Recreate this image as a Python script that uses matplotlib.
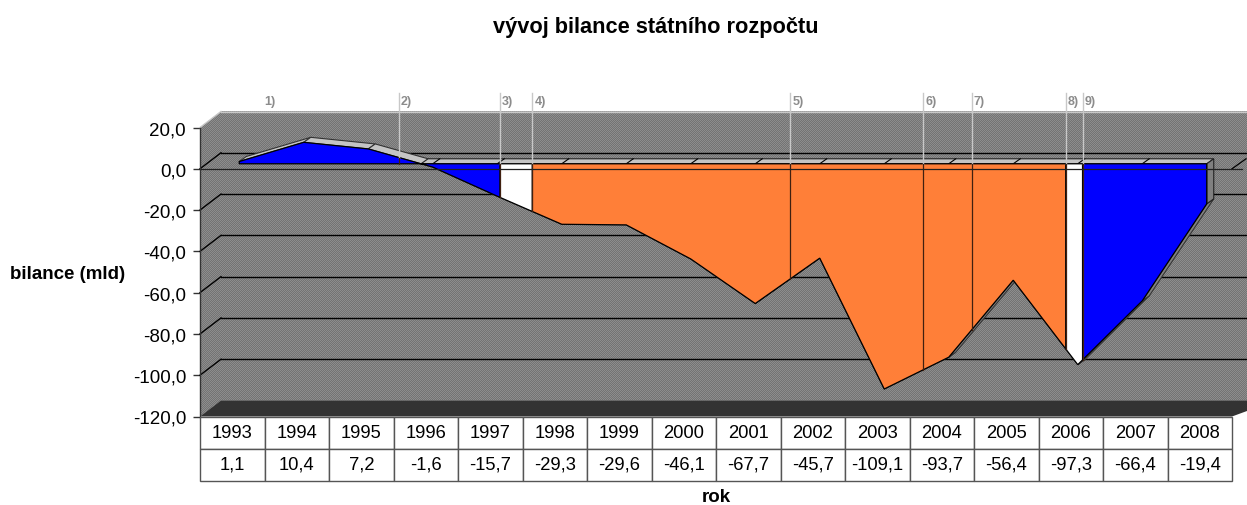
import numpy as np
import matplotlib
matplotlib.use("Agg")
import matplotlib.pyplot as plt
from matplotlib.patches import Polygon

plt.rcParams["font.family"] = ["Liberation Sans", "DejaVu Sans"]

years = [1993, 1994, 1995, 1996, 1997, 1998, 1999, 2000, 2001, 2002, 2003, 2004, 2005, 2006, 2007, 2008]
balance = [1.1, 10.4, 7.2, -1.6, -15.7, -29.3, -29.6, -46.1, -67.7, -45.7, -109.1, -93.7, -56.4, -97.3, -66.4, -19.4]
# where the government changes fall, in category units
event_pos = [2.475, 4.045, 4.545, 8.545, 10.605, 11.355, 12.815, 13.075]
event_names = ["2)", "3)", "4)", "5)", "6)", "7)", "8)", "9)"]
first_event_pos = 0.38
first_event_name = "1)"
region_colors = ["#0000ff", "#ffffff", "#ff7f38", "#ffffff", "#0000ff"]
region_edges = [0, 4.045, 4.545, 12.815, 13.075, 15]
value_ticks = [20, 0, -20, -40, -60, -80, -100, -120]

W, H = 1247, 506
fig = plt.figure(figsize=(W / 100, H / 100), dpi=100)
ax = fig.add_axes([200 / W, 1 - 417.5 / H, 1032 / W, 289 / H])
ax.set_xlim(-0.5, 15.5)
ax.set_ylim(-120, 20)
ax.set_facecolor("none")
for s in ax.spines.values():
    s.set_visible(False)

PX = 16 / 1032   # one pixel in x units
PY = 140 / 289   # one pixel in y units


def pts(xs, ys, ox=0, oy=0):
    """Category/value points shifted back by a depth offset given in pixels."""
    return np.column_stack([np.asarray(xs) + ox * PX, np.asarray(ys) + oy * PY])


def poly(xy, **kw):
    kw.setdefault("clip_on", False)
    p = Polygon(xy, closed=True, **kw)
    ax.add_patch(p)
    return p


def dither(patch, base, amp, zorder):
    """Checker pattern inside a patch, aligned on the figure's pixels."""
    yy, xx = np.mgrid[0:H, 0:W]
    img = base + amp * (((xx + yy) % 2) * 2 - 1)
    im = ax.imshow(img, cmap="gray", vmin=0, vmax=255, interpolation="nearest", aspect="auto", zorder=zorder,
                   extent=[-0.5 - 200 * PX, -0.5 + (W - 200) * PX, -120 - (H - 417.5) * PY, 20 + 128.5 * PY])
    im.set_clip_path(patch)
    im.set_clip_box(fig.bbox)


GRAY = "#808080"
x = np.arange(len(years))
v = np.array(balance)
left, right = -0.5, 15.5

# walls and floor
wall = poly(np.vstack([pts([left, left], [20, -120]), pts([left, left], [-120, -120], 21, 16)[:1],
                       pts([right + 0.35, right + 0.35], [-120, 20], 21, 16), pts([left], [20], 21, 16)]),
            fc=GRAY, ec="none", zorder=1)
dither(wall, 128, 13, 1.1)
ax.set_xlim(-0.5, 15.5)
ax.set_ylim(-120, 20)
poly([pts([left], [-120])[0], pts([left], [-120], 21, 16)[0], pts([right + 0.35], [-120], 21, 16)[0], pts([right], [-120])[0]],
     fc="#333333", ec="none", zorder=2)
ax.plot(*pts([left, right + 0.35], [20, 20], 21, 16).T, color="#c8c8c8", lw=1, clip_on=False, zorder=2)
ax.plot(*np.vstack([pts([left], [20]), pts([left], [20], 21, 16)]).T, color="#c8c8c8", lw=1, clip_on=False, zorder=2)

for t in value_ticks[1:-1]:
    ax.plot(*pts([left, right + 0.35], [t, t], 21, 16).T, color="black", lw=1, clip_on=False, zorder=2)
    ax.plot(*np.vstack([pts([left], [t]), pts([left], [t], 21, 16)]).T, color="black", lw=1, clip_on=False, zorder=2)

# ribbon behind the faces
dx1, dy1 = 7, 5
dx2, dy2 = 14, 10
for i in range(len(x) - 1):
    col = "#c4c4c4" if v[i] > 0 else GRAY
    quad = np.vstack([pts(x[i:i + 2], v[i:i + 2], dx1, dy1), pts(x[i:i + 2], v[i:i + 2], dx2, dy2)[::-1]])
    poly(quad, fc=col, ec="#333333", lw=0.8, zorder=3)

cross = 2 + 7.2 / (7.2 + 1.6)
quad = np.vstack([pts([cross, 15], [0, 0], dx1, dy1), pts([cross, 15], [0, 0], dx2, dy2)[::-1]])
poly(quad, fc="#c4c4c4", ec="#222222", lw=0.8, zorder=3.2)
for xi in x[3:15]:
    ax.plot(*np.vstack([pts([xi], [0], dx1, dy1), pts([xi], [0], dx2, dy2)]).T, color="black", lw=0.8, zorder=3.3, clip_on=False)

# right end cap
cap = np.vstack([pts([15, 15], [0, v[-1]], dx1, dy1), pts([15, 15], [v[-1], 0], dx2, dy2)])
poly(cap, fc=GRAY, ec="#222222", lw=0.8, zorder=3.3)

# front faces, split at the event positions
for a, b, col in zip(region_edges[:-1], region_edges[1:], region_colors):
    inner = [a] + [xi for xi in x if a < xi < b] + [b]
    vals = np.interp(inner, x, v)
    face = np.vstack([pts(inner, vals, dx1, dy1), pts([b, a], [0, 0], dx1, dy1)])
    poly(face, fc=col, ec="black", lw=0.9, zorder=4)

# event lines
for p, name in zip(event_pos, event_names):
    val = np.interp(p, x, v)
    ax.plot(*pts([p, p], [34.5, max(val, 0)], dx1, dy1).T, color="#c8c8c8", lw=1, clip_on=False, zorder=5)
    ax.plot(*pts([p, p], [0, val], dx1, dy1).T, color="#402010", lw=0.9, clip_on=False, zorder=5)
    tx, ty = pts([p], [30.2], dx1 + 2, dy1)[0]
    ax.text(tx, ty, name, fontsize=9, color="#8c8c8c", weight="bold", va="center", ha="left", zorder=6, clip_on=False)
tx, ty = pts([first_event_pos], [30.2], dx1, dy1)[0]
ax.text(tx, ty, first_event_name, fontsize=9, color="#8c8c8c", weight="bold", va="center", ha="left", zorder=6, clip_on=False)

# front zero line
ax.plot([left, right + 0.15], [0, 0], color="#202020", lw=0.9, clip_on=False, zorder=5)
ax.plot(*np.vstack([pts([right], [0]), pts([right], [0], 14, 10)]).T, color="black", lw=0.9, clip_on=False, zorder=2)

# axis
ax.plot([left, left], [20, -120], color="#333333", lw=1, clip_on=False, zorder=7)
ax.set_yticks(value_ticks)
ax.set_yticklabels([f"{t:.1f}".replace(".", ",") for t in value_ticks], fontsize=13.5)
ax.tick_params(axis="y", length=5, width=1, color="#333333", pad=5)
ax.set_xticks([])

# data table under the plot
row1 = [str(y) for y in years]
row2 = [f"{b:.1f}".replace(".", ",") for b in balance]
tab = ax.table(cellText=[row1, row2], cellLoc="center", bbox=[0, -64 / 289, 1, 64 / 289], zorder=8)
tab.auto_set_font_size(False)
tab.set_fontsize(13.2)
for (r, c), cell in tab.get_celld().items():
    cell.set_edgecolor("#555555")
    cell.set_linewidth(1)

fig.text(656 / W, 1 - 27 / H, "vývoj bilance státního rozpočtu", fontsize=15.7, weight="bold", ha="center", va="center")
fig.text(68 / W, 1 - 275 / H, "bilance (mld)", fontsize=13.5, weight="bold", ha="center", va="center")
fig.text(716 / W, 1 - 498 / H, "rok", fontsize=13.5, weight="bold", ha="center", va="center")

fig.savefig("out.png", dpi=100)
